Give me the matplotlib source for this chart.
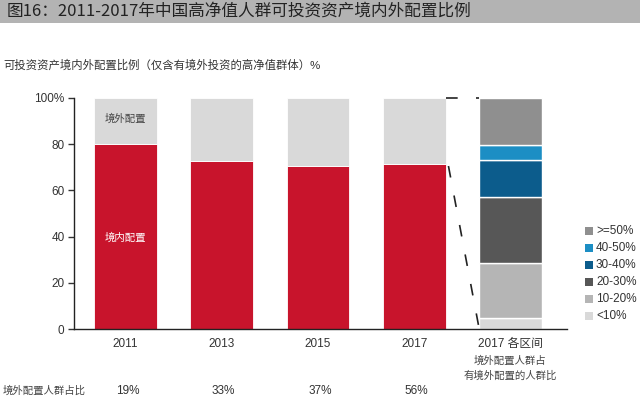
import matplotlib.pyplot as plt
from matplotlib.patches import Rectangle

plt.rcParams['font.family'] = ['Liberation Sans', 'Noto Sans CJK SC', 'DejaVu Sans']

years = ['2011', '2013', '2015', '2017']
domestic = [80, 72.5, 70.5, 71.5]
overseas = [100 - d for d in domestic]
holder_share = ['19%', '33%', '37%', '56%']

bands = ['<10%', '10-20%', '20-30%', '30-40%', '40-50%', '>=50%']
band_share = [5, 23.5, 28.5, 16, 6.5, 20.5]
band_colors = ['#d9d9d9', '#b5b5b5', '#575757', '#0c5c8c', '#1c8ec4', '#8f8f8f']

red = '#c8142c'
grey = '#d9d9d9'
txt = '#333333'

fig = plt.figure(figsize=(6.4, 4.01), dpi=100)

# title band
fig.patches.append(Rectangle((0, 1 - 23 / 401), 1, 23 / 401, transform=fig.transFigure,
                             facecolor='#b3b3b3', edgecolor='none', zorder=0))
fig.text(7 / 640, 1 - 11.5 / 401, '图16：2011-2017年中国高净值人群可投资资产境内外配置比例',
         family=['Noto Sans CJK SC'], fontsize=12, color='#222222', va='center', ha='left')
fig.text(3 / 640, 1 - 65 / 401, '可投资资产境内外配置比例（仅含有境外投资的高净值群体）%',
         fontsize=8.2, color=txt, va='center', ha='left')

ax = fig.add_axes([74.3 / 640, 1 - 329.3 / 401, (567 - 74.3) / 640, 231.6 / 401])
x = list(range(len(years)))
w = 0.65
ax.bar(x, domestic, width=w, color=red, edgecolor='white', linewidth=0.6)
ax.bar(x, overseas, width=w, bottom=domestic, color=grey, edgecolor='white', linewidth=0.6)

bottom = 0
for val, col in zip(band_share, band_colors):
    ax.bar(4, val, width=w, bottom=bottom, color=col, edgecolor='white', linewidth=1.0)
    bottom += val

# connector lines
ax.plot([3 + w / 2, 4 - w / 2], [100, 100], color='#222222', lw=1.2,
        linestyle=(0, (7, 11)), clip_on=False)
ax.plot([3 + w / 2 + 0.03, 4 - w / 2], [domestic[3] - 1, 0], color='#222222', lw=1.2,
        linestyle=(0, (7, 11)), clip_on=False)

ax.text(0, 91, '境外配置', ha='center', va='center', fontsize=7.5, color='#444444')
ax.text(0, 39.5, '境内配置', ha='center', va='center', fontsize=7.5, color='white')

ax.set_xlim(-0.53, 4.586)
ax.set_ylim(0, 100)
ax.set_yticks([0, 20, 40, 60, 80, 100])
ax.set_yticklabels(['0', '20', '40', '60', '80', '100%'])
ax.set_xticks([0, 1, 2, 3, 4])
ax.set_xticklabels(years + ['2017 各区间'])
ax.tick_params(axis='y', length=4, width=1, colors=txt, labelsize=8.5, pad=3)
ax.tick_params(axis='x', length=0, colors=txt, labelsize=8.5, pad=6)
for s in ['top', 'right']:
    ax.spines[s].set_visible(False)
for s in ['left', 'bottom']:
    ax.spines[s].set_color('#222222')
    ax.spines[s].set_linewidth(1.0)

# notes under the breakdown bar
fig.text(510 / 640, 1 - 361 / 401, '境外配置人群占', fontsize=7.5, color='#444444',
         ha='center', va='center')
fig.text(510 / 640, 1 - 376 / 401, '有境外配置的人群比', fontsize=7.5, color='#444444',
         ha='center', va='center')

# bottom row
fig.text(3 / 640, 1 - 391 / 401, '境外配置人群占比', fontsize=7.5, color='#444444',
         ha='left', va='center')
for i, s in enumerate(holder_share):
    xp = ax.transData.transform((i, 0))[0] / fig.dpi / 6.4
    fig.text(xp + 2 / 640, 1 - 391 / 401, s, fontsize=8.5, color=txt, ha='center', va='center')

# legend
for i, (lab, col) in enumerate(zip(bands[::-1], band_colors[::-1])):
    yp = 1 - (231 + 17 * i) / 401
    fig.patches.append(Rectangle((585 / 640, yp - 4 / 401), 8 / 640, 8 / 401,
                                 transform=fig.transFigure, facecolor=col, edgecolor='none'))
    fig.text(596 / 640, yp, lab, fontsize=8.5, color=txt, ha='left', va='center')

fig.savefig('out.png', dpi=100)
